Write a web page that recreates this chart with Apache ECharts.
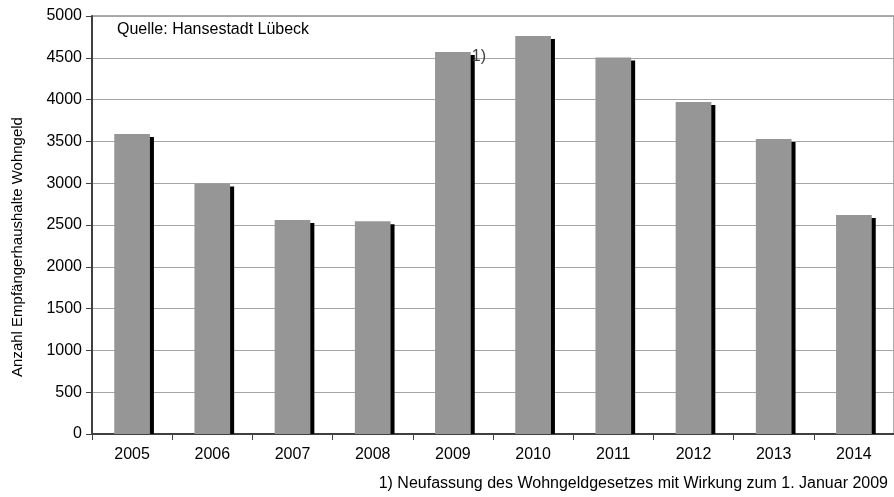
<!DOCTYPE html>
<html>
<head>
<meta charset="utf-8">
<script src="https://cdn.jsdelivr.net/npm/echarts@6/dist/echarts.min.js"></script>
<style>
  html, body { margin: 0; padding: 0; background: #fff; }
  #chart { width: 894px; height: 497px; }
</style>
</head>
<body>
<div id="chart"></div>
<script>
// Jahre und Anzahl Empfängerhaushalte Wohngeld
var years = ['2005', '2006', '2007', '2008', '2009', '2010', '2011', '2012', '2013', '2014'];
var households = [3590, 2995, 2560, 2545, 4570, 4760, 4505, 3970, 3530, 2620];
var notes = ['', '', '', '', '1)', '', '', '', '', ''];
var yTicks = [0, 500, 1000, 1500, 2000, 2500, 3000, 3500, 4000, 4500, 5000];

var font = 'Liberation Sans, Arial, sans-serif';
var myChart = echarts.init(document.getElementById('chart'));

// Balken mit schwarzem Schatten rechts (wie im Excel-Diagramm)
function renderBar(params, api) {
  var top = api.coord([api.value(0), api.value(1)]);
  var base = api.coord([api.value(0), 0]);
  var bw = api.size([1, 0])[0] * 0.445;
  var x0 = top[0] - bw / 2;
  var h = base[1] - top[1];
  var children = [
    {
      type: 'rect',
      shape: { x: x0 + 4, y: top[1] + 3, width: bw, height: h - 3 },
      style: { fill: '#000' }
    },
    {
      type: 'rect',
      shape: { x: x0, y: top[1], width: bw, height: h },
      style: { fill: '#969696' }
    }
  ];
  var note = notes[params.dataIndex];
  if (note) {
    children.push({
      type: 'text',
      x: x0 + bw + 1,
      y: top[1] - 3,
      style: { text: note, fill: '#404040', font: '16px ' + font, textVerticalAlign: 'top' }
    });
  }
  return { type: 'group', children: children };
}

myChart.setOption({
  backgroundColor: '#fff',
  animation: false,
  grid: {
    left: 92,
    top: 16,
    width: 810,
    height: 418,
    show: true,
    borderColor: '#555',
    borderWidth: 1
  },
  xAxis: {
    type: 'category',
    data: years,
    axisLine: { lineStyle: { color: '#404040', width: 2 }, z: 10 },
    axisTick: { show: true, alignWithLabel: false, length: 6, lineStyle: { color: '#404040' } },
    axisLabel: { color: '#000', fontSize: 16, fontFamily: font, margin: 13 },
    splitLine: { show: false }
  },
  yAxis: {
    type: 'value',
    min: yTicks[0],
    max: yTicks[yTicks.length - 1],
    interval: 500,
    axisLine: { show: true, lineStyle: { color: '#404040', width: 2 } },
    axisTick: { show: true, length: 6, lineStyle: { color: '#404040' } },
    axisLabel: {
      color: '#000', fontSize: 16, fontFamily: font, margin: 10,
      formatter: function (v) { return String(v); }
    },
    splitLine: { show: true, lineStyle: { color: '#a6a6a6', width: 1 } }
  },
  series: [{
    type: 'custom',
    renderItem: renderBar,
    data: households.map(function (v, i) { return [i, v]; }),
    z: 2
  }],
  graphic: [
    {
      type: 'text',
      x: 18,
      y: 247,
      rotation: Math.PI / 2,
      style: {
        text: 'Anzahl Empfängerhaushalte Wohngeld',
        fill: '#000',
        font: '15px ' + font,
        textAlign: 'center',
        textVerticalAlign: 'middle'
      }
    },
    {
      type: 'text',
      left: 117,
      top: 22,
      style: { text: 'Quelle: Hansestadt Lübeck', fill: '#000', font: '16px ' + font }
    },
    {
      type: 'text',
      right: 6,
      top: 476,
      style: { text: '1) Neufassung des Wohngeldgesetzes mit Wirkung zum 1. Januar 2009', fill: '#000', font: '16px ' + font }
    }
  ]
});
</script>
</body>
</html>
